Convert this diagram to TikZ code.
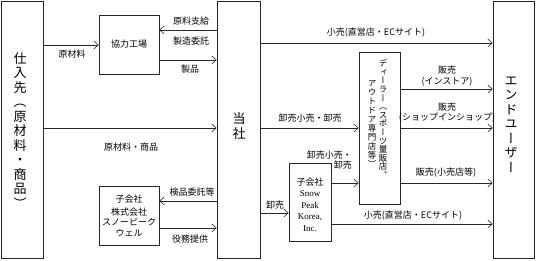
\documentclass[tikz,border=0pt]{standalone}
\usepackage{fontspec}
\newfontfamily\jp{Noto Sans CJK JP}
\newfontfamily\jpv[RawFeature=+vert]{Noto Sans CJK JP}
\newfontfamily\lat{Liberation Serif}
\usetikzlibrary{arrows.meta}
\begin{document}
\begin{tikzpicture}[x=1pt,y=-1pt,
  box/.style={draw=black!85, line width=0.6pt, inner sep=0pt, rectangle},
  arr/.style={draw=black!85, line width=0.6pt, -{Straight Barb[length=4.5pt,width=8pt]}},
  lbl/.style={font=\jp\fontsize{9}{10.5}\selectfont, inner sep=0pt},
  vbig/.style={font=\jpv\fontsize{13}{14.5}\selectfont, align=center, inner sep=0pt},
]
\useasboundingbox (0,0) rectangle (537,260);
% boxes
\node[box, minimum width=42pt, minimum height=257pt] (src) at (22,129.5) {};
\node[box, minimum width=60pt, minimum height=59pt, font=\jp\fontsize{9}{10.5}\selectfont] (kyo) at (129,44.5) {協力工場};
\node[box, minimum width=43pt, minimum height=257pt] (tosha) at (238.5,129.5) {};
\node[box, minimum width=41pt, minimum height=257pt] (endu) at (513.5,129.5) {};
\node[box, minimum width=41pt, minimum height=152pt] (dealer) at (379.5,128) {};
\node[box, minimum width=42pt, minimum height=78pt] (spk) at (310,202) {};
\node[box, minimum width=60pt, minimum height=59pt] (well) at (129,215.5) {};
% box texts
\node[vbig] (srct) at (20,130.5) {仕\\入\\先\\（\\原\\材\\料\\・\\商\\品\\）};
\node[vbig] (tosht) at (239,126) {当\\社};
\node[vbig] (endt) at (511,124.5) {エ\\ン\\ド\\ユ\\ー\\ザ\\ー};
\node[font=\jpv\fontsize{8.5}{8.6}\selectfont, align=center, inner sep=0pt] (dealr) at (383,119) {デ\\ィ\\ー\\ラ\\ー\\（\\ス\\ポ\\ー\\ツ\\量\\販\\店\\、};
\node[font=\jpv\fontsize{8.5}{9.1}\selectfont, align=center, inner sep=0pt] (dealt) at (372,124) {ア\\ウ\\ト\\ド\\ア\\専\\門\\店\\等\\）};
\node[lbl, align=center] (wellt) at (129,216) {子会社\\[2pt]株式会社\\スノーピーク\\ウェル};
\node[lbl] (spkt1) at (310,182) {子会社};
\node[font=\lat\fontsize{9}{11.6}\selectfont, align=center, inner sep=0pt] (spkt2) at (310,211) {Snow\\Peak\\Korea,\\Inc.};
% arrows
\draw[arr] (src.east |- 0,45) -- (kyo.west |- 0,45);
\draw[arr] (tosha.west |- 0,30) -- (kyo.east |- 0,30);
\draw[arr] (kyo.east |- 0,60) -- (tosha.west |- 0,60);
\draw[arr] (src.east |- 0,128) -- (tosha.west |- 0,128);
\draw[arr] (tosha.east |- 0,43) -- (endu.west |- 0,43);
\draw[arr] (tosha.east |- 0,128) -- (dealer.west |- 0,128);
\draw[arr] (dealer.east |- 0,89) -- (endu.west |- 0,89);
\draw[arr] (dealer.east |- 0,128) -- (endu.west |- 0,128);
\draw[arr] (dealer.east |- 0,183) -- (endu.west |- 0,183);
\draw[arr] (tosha.east |- 0,213) -- (spk.west |- 0,213);
\draw[arr] (spk.east |- 0,183) -- (dealer.west |- 0,183);
\draw[arr] (spk.east |- 0,224) -- (endu.west |- 0,224);
\draw[arr] (tosha.west |- 0,201) -- (well.east |- 0,201);
\draw[arr] (well.east |- 0,228) -- (tosha.west |- 0,228);
% labels
\node[lbl] (a1) at (72,54) {原材料};
\node[lbl] (a2) at (191,21) {原料支給};
\node[lbl] (a3) at (191,41) {製造委託};
\node[lbl] (a4) at (190,69) {製品};
\node[lbl] (a5) at (131,147) {原材料・商品};
\node[lbl] (a6) at (376,33) {小売(直営店・ECサイト)};
\node[lbl] (a7) at (310,118) {卸売小売・卸売};
\node[lbl, align=center] (a8) at (447,76) {販売\\(インストア)};
\node[lbl, align=center] (a9) at (447,112.5) {販売\\(ショップインショップ)};
\node[lbl] (a10) at (446,173) {販売(小売店等)};
\node[lbl] (a11) at (413,216) {小売(直営店・ECサイト)};
\node[lbl] (a12) at (275,205) {卸売};
\node[lbl, align=right, anchor=east] (a13) at (352,160) {卸売小売・\\卸売};
\node[lbl] (a14) at (192,192) {検品委託等};
\node[lbl] (a15) at (190,239) {役務提供};
\end{tikzpicture}
\end{document}
